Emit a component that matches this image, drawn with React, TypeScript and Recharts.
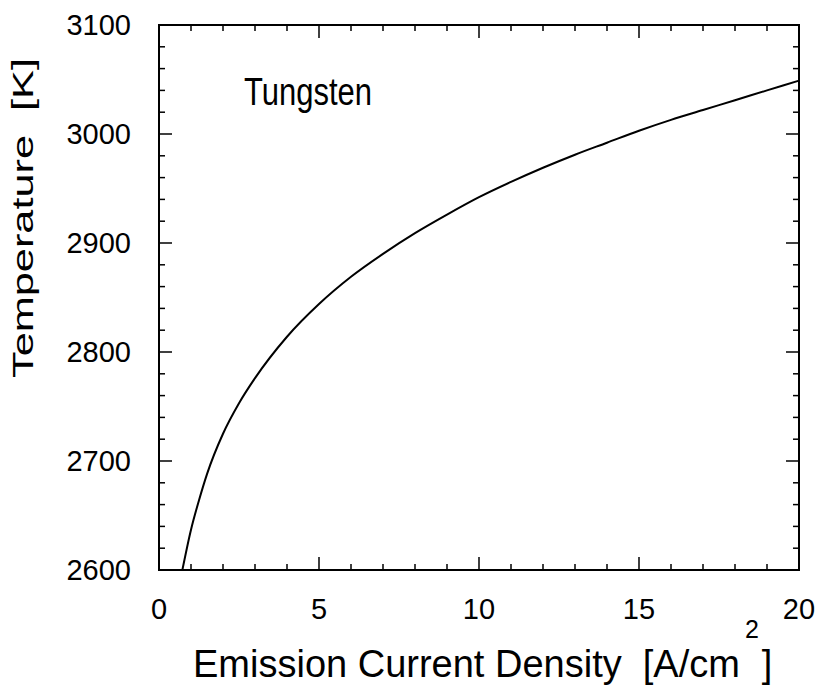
import { LineChart, Line, XAxis, YAxis, ReferenceArea } from 'recharts'

// emission current density [A/cm^2] vs tungsten temperature [K]
const densities = [0.73, 1, 1.25, 1.5, 2, 2.5, 3, 4, 5, 6, 7, 8, 9, 10, 11, 12, 13, 14, 15, 16, 17, 18, 19, 20]
const temperatures = [2600, 2637, 2664, 2688, 2725, 2753, 2776, 2814, 2844, 2869, 2890, 2909, 2926, 2942, 2956, 2969, 2981, 2992, 3003, 3013, 3022, 3031, 3040, 3049]

const xTicks = [0, 1, 2, 3, 4, 5, 6, 7, 8, 9, 10, 11, 12, 13, 14, 15, 16, 17, 18, 19, 20]
const xLabels = [0, 5, 10, 15, 20]
const yTicks = [2600, 2620, 2640, 2660, 2680, 2700, 2720, 2740, 2760, 2780, 2800, 2820, 2840, 2860, 2880, 2900, 2920, 2940, 2960, 2980, 3000, 3020, 3040, 3060, 3080, 3100]
const yLabels = [2600, 2700, 2800, 2900, 3000, 3100]

const W = 820
const H = 690
const TOP = 25
const LEFT = 159
const RIGHT = 799
const BOTTOM = 570
const font = "'Liberation Sans', Arial, sans-serif"

const data = densities.map((x, i) => ({ x, t: temperatures[i] }))

function XTick({ x, payload }: any) {
    const major = xLabels.includes(payload.value)
    const len = major ? 13 : 6
    return (
        <g>
            <line x1={x} x2={x} y1={BOTTOM} y2={BOTTOM - len} stroke="#000" strokeWidth={1.5} />
            <line x1={x} x2={x} y1={TOP} y2={TOP + len} stroke="#000" strokeWidth={1.5} />
            {major && (
                <text x={x} y={609} textAnchor="middle" dominantBaseline="central" fontSize={29} fontFamily={font} fill="#000">
                    {payload.value}
                </text>
            )}
        </g>
    )
}

function YTick({ y, payload }: any) {
    const major = yLabels.includes(payload.value)
    const len = major ? 13 : 6
    return (
        <g>
            <line x1={LEFT} x2={LEFT + len} y1={y} y2={y} stroke="#000" strokeWidth={1.5} />
            <line x1={RIGHT} x2={RIGHT - len} y1={y} y2={y} stroke="#000" strokeWidth={1.5} />
            {major && (
                <text x={131} y={y} textAnchor="end" dominantBaseline="central" fontSize={29} fontFamily={font} fill="#000">
                    {payload.value}
                </text>
            )}
        </g>
    )
}

export default function App() {
    return (
        <div style={{ position: 'absolute', left: 0, top: 0, width: W, height: H, background: '#fff' }}>
            <LineChart width={W} height={H} data={data} margin={{ top: TOP, right: W - RIGHT, bottom: 0, left: 0 }}>
                <XAxis
                    dataKey="x"
                    type="number"
                    domain={[0, 20]}
                    ticks={xTicks}
                    interval={0}
                    height={H - BOTTOM}
                    tickLine={false}
                    axisLine={{ stroke: '#000', strokeWidth: 2 }}
                    tick={<XTick />}
                />
                <YAxis
                    type="number"
                    domain={[2600, 3100]}
                    ticks={yTicks}
                    interval={0}
                    width={LEFT}
                    allowDataOverflow
                    tickLine={false}
                    axisLine={{ stroke: '#000', strokeWidth: 2 }}
                    tick={<YTick />}
                />
                <ReferenceArea x1={0} x2={20} y1={2600} y2={3100} fill="none" stroke="#000" strokeWidth={2} />
                <Line
                    dataKey="t"
                    type="monotone"
                    stroke="#000"
                    strokeWidth={2}
                    dot={false}
                    isAnimationActive={false}
                />
            </LineChart>
            <svg width={W} height={H} style={{ position: 'absolute', left: 0, top: 0, pointerEvents: 'none' }}>
                <text x={244} y={105} fontSize={38} fontFamily={font} textLength={128} lengthAdjust="spacingAndGlyphs" fill="#000">
                    Tungsten
                </text>
                <text
                    transform="translate(33,378) rotate(-90)"
                    fontSize={29}
                    fontFamily={font}
                    textLength={320}
                    lengthAdjust="spacingAndGlyphs"
                    fill="#000"
                    style={{ whiteSpace: 'pre' }}
                >
                    Temperature  [K]
                </text>
                <text x={193} y={677} fontSize={38} fontFamily={font} fill="#000" style={{ whiteSpace: 'pre' }}>
                    Emission Current Density  [A/cm<tspan dx={5} dy={-39} fontSize={25}>2</tspan><tspan dx={3} dy={39}>]</tspan>
                </text>
            </svg>
        </div>
    )
}
